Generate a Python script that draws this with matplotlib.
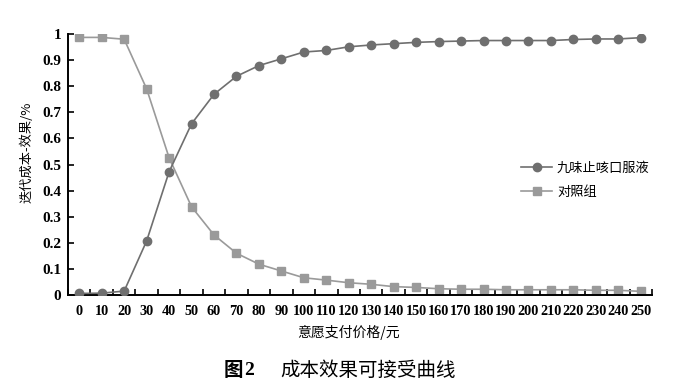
import matplotlib

matplotlib.use("Agg")
import matplotlib.pyplot as plt
from matplotlib.ticker import FixedLocator

# price steps (元)
prices = list(range(0, 260, 10))

# probability cost-effective, 九味止咳口服液
jiuwei = [0.006, 0.007, 0.015, 0.207, 0.472, 0.656, 0.769, 0.838, 0.879, 0.905,
          0.931, 0.937, 0.951, 0.958, 0.963, 0.968, 0.971, 0.973, 0.975, 0.975,
          0.975, 0.975, 0.979, 0.981, 0.981, 0.986]
# control group
control = [0.987, 0.987, 0.980, 0.790, 0.526, 0.338, 0.230, 0.160, 0.118, 0.092,
           0.066, 0.057, 0.047, 0.041, 0.032, 0.029, 0.024, 0.022, 0.022, 0.020,
           0.020, 0.020, 0.020, 0.018, 0.018, 0.014]

y_ticks = [0, 0.1, 0.2, 0.3, 0.4, 0.5, 0.6, 0.7, 0.8, 0.9, 1]
y_labels = ["0", "0.1", "0.2", "0.3", "0.4", "0.5", "0.6", "0.7", "0.8", "0.9", "1"]

series_names = ["九味止咳口服液", "对照组"]

CJK = ["Noto Sans CJK SC", "DejaVu Sans"]
SERIF = "Liberation Serif"

fig = plt.figure(figsize=(6.94, 3.90), dpi=100)
ax = fig.add_axes([0.098, 0.2436, 0.8415, 0.6692])

ax.plot(prices, jiuwei, color="#6f6f6f", lw=1.2, marker="o", ms=6,
        label=series_names[0], zorder=3)
ax.plot(prices, control, color="#9a9a9a", lw=1.2, marker="s", ms=6,
        label=series_names[1], zorder=2)

ax.set_xlim(-5, 255)
ax.set_ylim(0, 1)

# category-style x axis: ticks between the labels
ax.xaxis.set_major_locator(FixedLocator([p - 5 for p in prices] + [255]))
ax.xaxis.set_major_formatter(plt.NullFormatter())
ax.xaxis.set_minor_locator(FixedLocator(prices))
ax.set_xticklabels([str(p) for p in prices], minor=True)
ax.tick_params(axis="x", which="major", direction="in", length=4, width=1.2)
ax.tick_params(axis="x", which="minor", length=0, pad=7)

ax.set_yticks(y_ticks)
ax.set_yticklabels(y_labels)
ax.tick_params(axis="y", direction="in", length=4, width=1.2, pad=5)

for lab in ax.get_xticklabels(minor=True):
    lab.set_fontfamily(SERIF)
    lab.set_fontweight("bold")
    lab.set_fontsize(10.3)
for lab in ax.get_yticklabels():
    lab.set_fontfamily(SERIF)
    lab.set_fontweight("bold")
    lab.set_fontsize(11)

for side in ("top", "right"):
    ax.spines[side].set_visible(False)
for side in ("left", "bottom"):
    ax.spines[side].set_linewidth(1.4)

ax.set_xlabel("意愿支付价格/元", family=CJK, fontsize=10)
ax.set_ylabel("迭代成本-效果/%", family=CJK, fontsize=9.5)
ax.xaxis.set_label_coords((348 - 68) / 584, -0.115)
ax.yaxis.set_label_coords((34 - 68) / 584, (295 - 152) / 261)

leg = ax.legend(loc="center left", bbox_to_anchor=(0.765, 0.44), frameon=False,
                prop={"family": CJK, "size": 9.5}, handlelength=2.3,
                handletextpad=0.4, labelspacing=0.85, borderpad=0)

fig.text(0.322, 0.05, "图", family=CJK, fontsize=14, fontweight="bold",
         ha="left", va="center")
fig.text(0.352, 0.05, "2", family=SERIF, fontsize=14, fontweight="bold",
         ha="left", va="center")
fig.text(0.404, 0.05, "成本效果可接受曲线", family=CJK, fontsize=14,
         ha="left", va="center")

fig.savefig("out.png", dpi=100)
